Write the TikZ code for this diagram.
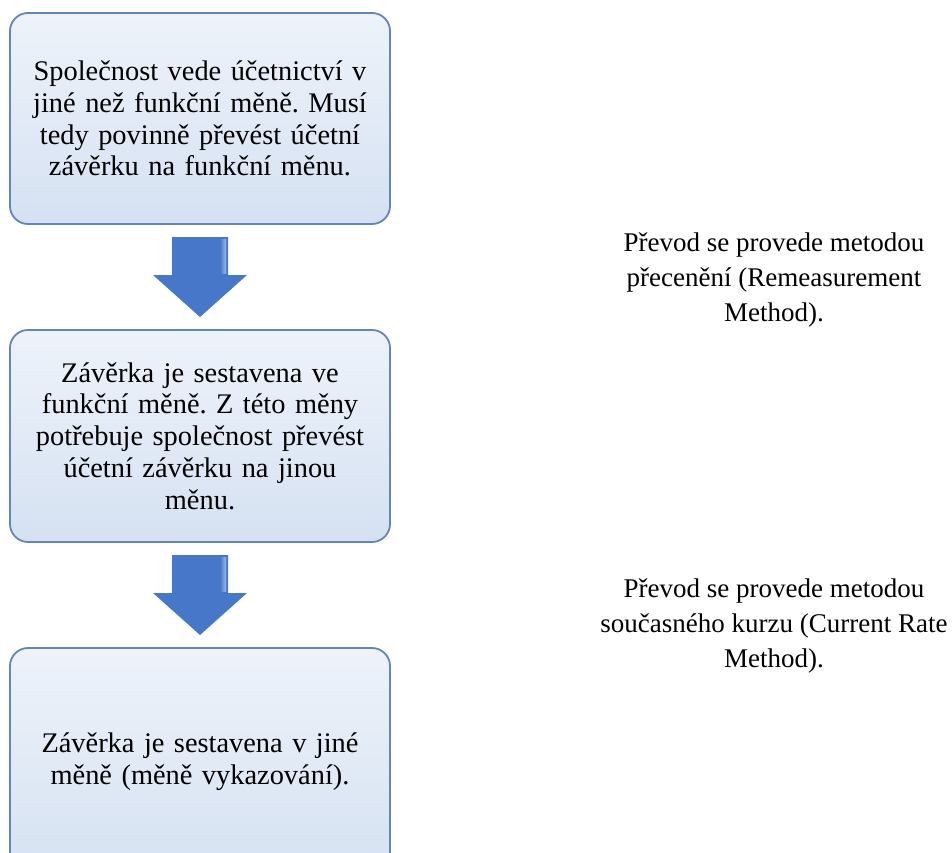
\documentclass[tikz,border=0pt]{standalone}
\usepackage{fontspec}
\setmainfont{Liberation Serif}
\frenchspacing
\definecolor{boxedge}{HTML}{6584B8}
\definecolor{boxtop}{HTML}{EEF3FA}
\definecolor{boxbot}{HTML}{D5E1F2}
\definecolor{arrowblue}{HTML}{4677C8}
\definecolor{arrowlight}{HTML}{9DBBEA}
\tikzset{
  flowbox/.style={draw=boxedge, line width=1.8pt, rounded corners=18pt,
    top color=boxtop, bottom color=boxbot, minimum width=380pt,
    align=center, text width=360pt, inner sep=0pt,
    font=\fontsize{28.4pt}{31.8pt}\selectfont},
  sidetext/.style={align=center, font=\fontsize{27pt}{35pt}\selectfont},
  blockarrow/.style={fill=arrowblue, draw=none},
}
\begin{document}
\begin{tikzpicture}[x=1pt,y=1pt,yscale=-1]
\useasboundingbox (0,0) rectangle (952,852);
\fill[white] (0,0) rectangle (952,852);
\node[flowbox, minimum height=211pt] (b1) at (200,118.5)
  {Společnost vede účetnictví v\\jiné než funkční měně. Musí\\tedy povinně převést účetní\\závěrku na funkční měnu.};
\node[flowbox, minimum height=212pt] (b2) at (200,436)
  {Závěrka je sestavena ve\\funkční měně. Z této měny\\potřebuje společnost převést\\účetní závěrku na jinou\\měnu.};
\begin{scope}
\clip (0,0) rectangle (952,852);
\node[flowbox, minimum height=228pt] (b3) at (200,762)
  {Závěrka je sestavena v jiné\\měně (měně vykazování).};
\end{scope}
% block arrows
\foreach \n/\t in {a1/237,a2/555}{
  \coordinate (\n) at (200,\t);
  \fill[blockarrow] ([xshift=-28pt]\n) -- ([xshift=28pt]\n) -- ([xshift=28pt,yshift=38pt]\n)
    -- ([xshift=47pt,yshift=38pt]\n) -- ([yshift=80pt]\n) -- ([xshift=-47pt,yshift=38pt]\n)
    -- ([xshift=-28pt,yshift=38pt]\n) -- cycle;
  \shade[left color=arrowblue, right color=arrowlight]
    ([xshift=20pt,yshift=2pt]\n) rectangle ([xshift=26pt,yshift=36pt]\n);
}
\node[sidetext] (t1) at (774,280)
  {Převod se provede metodou\\přecenění (Remeasurement\\Method).};
\node[sidetext] (t2) at (774,626)
  {Převod se provede metodou\\současného kurzu (Current Rate\\Method).};
\end{tikzpicture}
\end{document}
